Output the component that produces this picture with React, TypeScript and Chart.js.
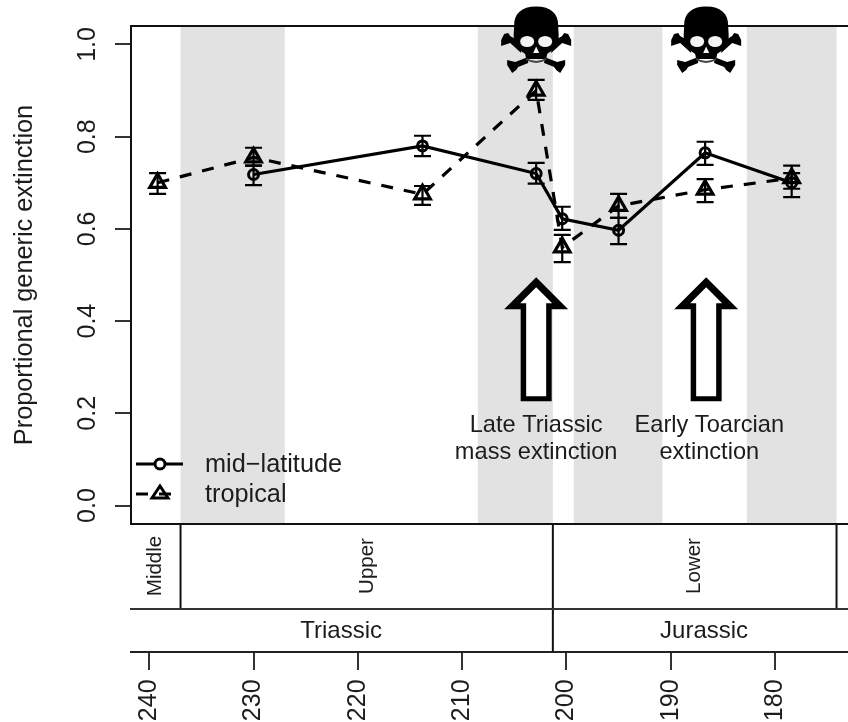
import React, { useEffect, useRef } from "react";
import { Chart, registerables } from "chart.js";

Chart.register(...registerables);

const FONT = '"Liberation Sans", Arial, sans-serif';
const INK = "#1c1c1c";

const tropicalAges = [239.2, 230, 213.8, 202.9, 200.4, 195, 186.7, 178.4];
const tropicalValues = [0.7, 0.755, 0.675, 0.9, 0.56, 0.65, 0.685, 0.71];
const tropicalLow = [0.676, 0.737, 0.652, 0.88, 0.528, 0.624, 0.658, 0.687];
const tropicalHigh = [0.721, 0.776, 0.693, 0.923, 0.587, 0.676, 0.708, 0.737];

const midAges = [230, 213.8, 202.9, 200.4, 195, 186.7, 178.4];
const midValues = [0.718, 0.78, 0.72, 0.622, 0.597, 0.765, 0.7];
const midLow = [0.695, 0.758, 0.698, 0.598, 0.567, 0.739, 0.669];
const midHigh = [0.737, 0.802, 0.743, 0.648, 0.624, 0.789, 0.721];

const greyBands = [
  [237, 227],
  [208.5, 201.3],
  [199.3, 190.8],
  [182.7, 174.1],
];

const eventAges = [202.9, 186.6];
const eventLabels = [
  ["Late Triassic", "mass extinction"],
  ["Early Toarcian", "extinction"],
];
const eventLabelAges = [202.9, 186.3];

const epochNames = ["Middle", "Upper", "Lower"];
const epochCentres = [239.4, 219.1, 187.7];
const epochBreaks = [237, 201.3, 174.1];
const periodNames = ["Triassic", "Jurassic"];
const periodCentres = [221.6, 186.8];
const periodBreak = 201.3;

const legendNames = ["mid\u2212latitude", "tropical"];

const chronoPlugin = {
  id: "chrono",
  beforeDatasetsDraw(chart: any) {
    const { ctx, chartArea: a, scales } = chart;
    ctx.save();
    ctx.fillStyle = "#e2e2e2";
    greyBands.forEach(([o, y]) => {
      const x0 = scales.x.getPixelForValue(o);
      const x1 = scales.x.getPixelForValue(y);
      ctx.fillRect(x0, a.top, x1 - x0, a.bottom - a.top);
    });
    ctx.restore();
  },
  afterDatasetsDraw(chart: any) {
    const { ctx, chartArea: a, scales } = chart;
    const X = (v: number) => scales.x.getPixelForValue(v);
    const Y = (v: number) => scales.y.getPixelForValue(v);
    ctx.save();

    // error bars
    ctx.strokeStyle = "#000";
    ctx.lineWidth = 2.2;
    const bars = (ages: number[], low: number[], high: number[]) => {
      ages.forEach((age, i) => {
        const px = X(age);
        ctx.beginPath();
        ctx.moveTo(px, Y(low[i]));
        ctx.lineTo(px, Y(high[i]));
        [low[i], high[i]].forEach((v) => {
          ctx.moveTo(px - 8.5, Y(v));
          ctx.lineTo(px + 8.5, Y(v));
        });
        ctx.stroke();
      });
    };
    bars(tropicalAges, tropicalLow, tropicalHigh);
    bars(midAges, midLow, midHigh);

    // plot frame and stratigraphic table
    const stratTop = a.bottom;
    const stratMid = 609;
    const stratBottom = 652;
    ctx.strokeStyle = "#111";
    ctx.lineWidth = 2;
    ctx.beginPath();
    ctx.moveTo(a.left - 1, a.top);
    ctx.lineTo(a.right, a.top);
    ctx.moveTo(a.left - 1, a.bottom);
    ctx.lineTo(a.right, a.bottom);
    epochBreaks.forEach((b) => {
      ctx.moveTo(X(b), stratTop);
      ctx.lineTo(X(b), stratMid);
    });
    ctx.moveTo(X(periodBreak), stratMid);
    ctx.lineTo(X(periodBreak), stratBottom);
    ctx.stroke();
    ctx.strokeStyle = "#333";
    ctx.beginPath();
    ctx.moveTo(a.left - 1, stratMid);
    ctx.lineTo(a.right, stratMid);
    ctx.stroke();

    ctx.fillStyle = INK;
    ctx.textAlign = "center";
    ctx.textBaseline = "middle";
    ctx.font = `20.5px ${FONT}`;
    epochNames.forEach((name, i) => {
      ctx.save();
      ctx.translate(X(epochCentres[i]), 566);
      ctx.rotate(-Math.PI / 2);
      ctx.fillText(name, 0, 0);
      ctx.restore();
    });
    ctx.font = `24px ${FONT}`;
    periodNames.forEach((name, i) => {
      ctx.fillText(name, X(periodCentres[i]), 631);
    });

    // event labels
    ctx.font = `23.6px ${FONT}`;
    eventLabels.forEach((lines, i) => {
      lines.forEach((line, j) => {
        ctx.fillText(line, X(eventLabelAges[i]), 425 + j * 27.5);
      });
    });

    // arrows and skulls
    eventAges.forEach((age) => {
      const cx = X(age);
      const top = Y(0.495);
      const base = Y(0.226);
      ctx.fillStyle = "#000";
      ctx.beginPath();
      ctx.moveTo(cx, top);
      ctx.lineTo(cx + 32, top + 32);
      ctx.lineTo(cx + 15.5, top + 32);
      ctx.lineTo(cx + 15.5, base);
      ctx.lineTo(cx - 15.5, base);
      ctx.lineTo(cx - 15.5, top + 32);
      ctx.lineTo(cx - 32, top + 32);
      ctx.closePath();
      ctx.fill();
      ctx.fillStyle = "#fff";
      ctx.beginPath();
      ctx.moveTo(cx, top + 10);
      ctx.lineTo(cx + 16, top + 26);
      ctx.lineTo(cx + 10, top + 26);
      ctx.lineTo(cx + 10, base - 5);
      ctx.lineTo(cx - 10, base - 5);
      ctx.lineTo(cx - 10, top + 26);
      ctx.lineTo(cx - 16, top + 26);
      ctx.closePath();
      ctx.fill();
      drawSkull(ctx, cx);
    });

    // legend
    const datasets = chart.data.datasets;
    ctx.textAlign = "left";
    ctx.font = `25.3px ${FONT}`;
    ctx.fillStyle = INK;
    ctx.fillText(legendNames[0], 205, 465);
    ctx.fillText(legendNames[1], 205, 495);
    ctx.strokeStyle = "#000";
    ctx.lineWidth = 3;
    ctx.beginPath();
    ctx.moveTo(136, 464);
    ctx.lineTo(183, 464);
    ctx.stroke();
    ctx.setLineDash(datasets[1].borderDash);
    ctx.beginPath();
    ctx.moveTo(136, 494);
    ctx.lineTo(173, 494);
    ctx.stroke();
    ctx.setLineDash([]);
    ctx.fillStyle = "#fff";
    ctx.beginPath();
    ctx.arc(160, 464, 5, 0, Math.PI * 2);
    ctx.fill();
    ctx.stroke();
    ctx.beginPath();
    ctx.moveTo(160, 486);
    ctx.lineTo(168, 498);
    ctx.lineTo(152, 498);
    ctx.closePath();
    ctx.stroke();
    ctx.restore();
  },
};

function drawSkull(ctx: CanvasRenderingContext2D, cx: number) {
  ctx.save();
  ctx.translate(cx, 0);
  ctx.fillStyle = "#000";
  ctx.strokeStyle = "#000";
  ctx.lineCap = "butt";
  [-1, 1].forEach((s) => {
    ctx.beginPath();
    ctx.moveTo(s * 15, 53);
    ctx.lineTo(s * 26, 43);
    ctx.lineTo(s * 35, 46);
    ctx.lineTo(s * 35, 40);
    ctx.lineTo(s * 32, 34);
    ctx.lineTo(s * 28, 33);
    ctx.lineTo(s * 26, 36);
    ctx.lineTo(s * 16, 42);
    ctx.closePath();
    ctx.fill();
    ctx.beginPath();
    ctx.moveTo(s * 8, 57);
    ctx.lineTo(s * 21, 62);
    ctx.lineTo(s * 29, 60);
    ctx.lineTo(s * 29, 65);
    ctx.lineTo(s * 24, 73);
    ctx.lineTo(s * 20, 70);
    ctx.lineTo(s * 18, 67);
    ctx.lineTo(s * 8, 63);
    ctx.closePath();
    ctx.fill();
  });
  ctx.beginPath();
  ctx.moveTo(0, 6.5);
  ctx.bezierCurveTo(15, 6.5, 22, 14, 22, 25);
  ctx.bezierCurveTo(22, 32, 24, 40, 20, 46);
  ctx.bezierCurveTo(18, 50, 13, 52, 11, 54);
  ctx.lineTo(10, 59);
  ctx.lineTo(-10, 59);
  ctx.lineTo(-11, 54);
  ctx.bezierCurveTo(-13, 52, -18, 50, -20, 46);
  ctx.bezierCurveTo(-24, 40, -22, 32, -22, 25);
  ctx.bezierCurveTo(-22, 14, -15, 6.5, 0, 6.5);
  ctx.closePath();
  ctx.fill();
  ctx.lineWidth = 2;
  ctx.beginPath();
  ctx.moveTo(-10, 59);
  ctx.quadraticCurveTo(0, 65, 10, 59);
  ctx.strokeStyle = "#444";
  ctx.stroke();
  ctx.fillStyle = "#f4f4f4";
  [-1, 1].forEach((s) => {
    ctx.beginPath();
    ctx.ellipse(s * 9, 41.5, 7, 5.6, 0, 0, Math.PI * 2);
    ctx.fill();
  });
  ctx.beginPath();
  ctx.moveTo(0, 46.5);
  ctx.lineTo(3, 53);
  ctx.lineTo(-3, 53);
  ctx.closePath();
  ctx.fill();
  ctx.restore();
}

export default function App() {
  const ref = useRef<HTMLCanvasElement>(null);
  useEffect(() => {
    document.body.style.margin = "0";
    const chart = new Chart(ref.current as HTMLCanvasElement, {
      type: "line",
      data: {
        datasets: [
          {
            label: legendNames[0],
            data: midAges.map((x, i) => ({ x, y: midValues[i] })),
            borderColor: "#000",
            borderWidth: 3.2,
            pointStyle: "circle",
            pointRadius: 5,
            pointBorderWidth: 3,
            pointBorderColor: "#000",
            pointBackgroundColor: "transparent",
            clip: false,
          },
          {
            label: legendNames[1],
            data: tropicalAges.map((x, i) => ({ x, y: tropicalValues[i] })),
            borderColor: "#000",
            borderWidth: 3.2,
            borderDash: [12, 11],
            pointStyle: "triangle",
            pointRadius: 9,
            pointBorderWidth: 3.2,
            pointBorderColor: "#000",
            pointBackgroundColor: "transparent",
            clip: false,
          },
        ],
      } as any,
      options: {
        animation: false,
        responsive: false,
        parsing: false,
        layout: { autoPadding: false, padding: { top: 26, bottom: 198, left: 0, right: 0 } },
        plugins: { legend: { display: false }, tooltip: { enabled: false } },
        scales: {
          x: {
            type: "linear",
            position: { y: -0.3185 } as any,
            reverse: true,
            min: 173,
            max: 241.75,
            border: { display: true, color: "#222", width: 2 },
            grid: { drawOnChartArea: false, drawTicks: true, tickLength: 17, color: "#333", lineWidth: 2 },
            ticks: {
              stepSize: 10,
              includeBounds: false,
              autoSkip: false,
              minRotation: 90,
              maxRotation: 90,
              padding: 10,
              color: INK,
              font: { family: FONT, size: 25 },
            },
          },
          y: {
            type: "linear",
            min: -0.04,
            max: 1.04,
            afterFit: (s: any) => {
              s.width = 131;
            },
            border: { display: true, color: "#111", width: 2 },
            grid: { drawOnChartArea: false, drawTicks: true, tickLength: 16, color: "#333", lineWidth: 2 },
            title: {
              display: true,
              text: "Proportional generic extinction",
              color: INK,
              font: { family: FONT, size: 25.3 },
              padding: { top: 10, bottom: 0 },
            },
            ticks: {
              stepSize: 0.2,
              includeBounds: false,
              minRotation: 90,
              maxRotation: 90,
              crossAlign: "center",
              padding: 10,
              color: INK,
              font: { family: FONT, size: 25 },
              callback: (v: any) => Number(v).toFixed(1),
            },
          },
        },
      } as any,
      plugins: [chronoPlugin],
    });
    return () => chart.destroy();
  }, []);
  return <canvas ref={ref} width={848} height={722} style={{ display: "block" }} />;
}
